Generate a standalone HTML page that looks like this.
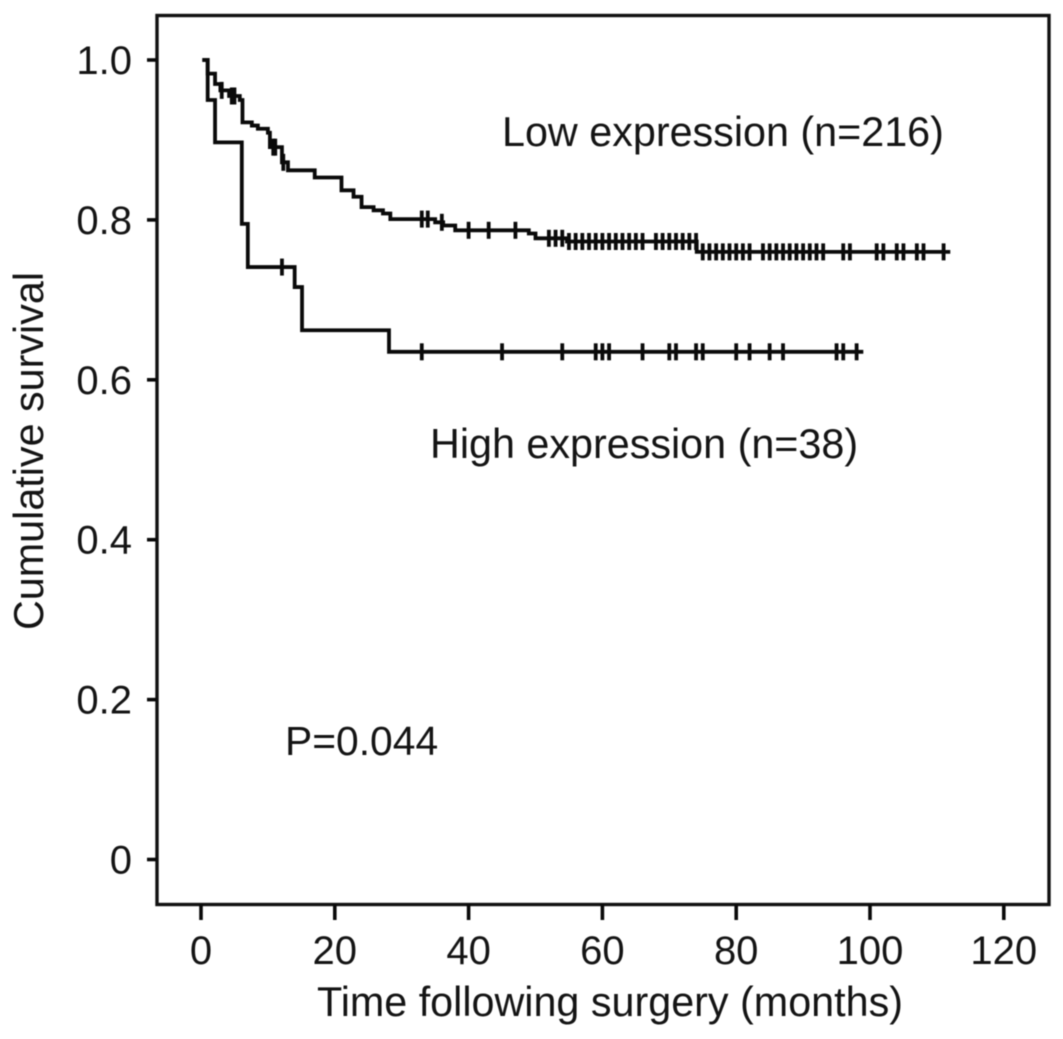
<!DOCTYPE html>
<html>
<head>
<meta charset="utf-8">
<style>
html,body{margin:0;padding:0;background:#fff;width:1063px;height:1039px;overflow:hidden}
svg{display:block;filter:blur(0.6px)}
text{font-family:"Liberation Sans",Arial,sans-serif;font-size:40px;fill:#141414}
.big{font-size:41.3px}
</style>
</head>
<body>
<svg id="chart" width="1063" height="1039" viewBox="0 0 1063 1039" xmlns="http://www.w3.org/2000/svg">
<rect x="157" y="15.5" width="892" height="889" fill="none" stroke="#111" stroke-width="3.4"/>
<text class="big" transform="translate(43,451) rotate(-90)" text-anchor="middle">Cumulative survival</text>
<text class="big" x="610" y="1016" text-anchor="middle">Time following surgery (months)</text>
<text class="big" x="502" y="146">Low expression (n=216)</text>
<text class="big" x="430" y="458">High expression (n=38)</text>
<text x="285" y="755" style="font-size:40.8px">P=0.044</text>
</svg>
<script>
const xTicks = [0, 20, 40, 60, 80, 100, 120];
const yTicks = [0, 0.2, 0.4, 0.6, 0.8, 1.0];
const yTickLabels = ["0", "0.2", "0.4", "0.6", "0.8", "1.0"];

const lowStepTimes = [0.2, 1.0, 2.1, 2.9, 4.2, 5.8, 6.2, 7.6, 8.5, 10.0, 10.3, 12.1, 13.0, 17.0, 21.0, 22.8, 24.0, 25.8, 27.2, 28.3, 35.0, 36.2, 38.0, 49.0, 50.0, 54.7, 74.1];
const lowStepSurvival = [1.0, 0.983, 0.970, 0.962, 0.955, 0.950, 0.922, 0.918, 0.914, 0.909, 0.891, 0.872, 0.862, 0.853, 0.837, 0.829, 0.816, 0.812, 0.808, 0.801, 0.797, 0.793, 0.787, 0.783, 0.777, 0.773, 0.760];
const lowEndTime = 112;
const lowCensorTimes = [3.1, 4.6, 5.0, 10.8, 11.1, 12.3, 33, 33.9, 36, 40, 43, 47, 52, 53, 54, 55, 56, 57, 58, 59, 60, 61, 62, 63, 64, 65, 66, 68, 69, 70, 71, 72, 73, 74, 75, 76, 77, 78, 79, 80, 81, 82, 84, 85, 86, 87, 88, 89, 90, 91, 92, 93, 96, 97, 101, 102, 104, 105, 107, 108, 111];

const highStepTimes = [0.2, 1.0, 2.1, 6.1, 7.0, 14.0, 15.1, 28.1];
const highStepSurvival = [1.0, 0.950, 0.897, 0.795, 0.741, 0.716, 0.662, 0.635];
const highEndTime = 99;
const highCensorTimes = [12.1, 33, 45, 54, 59, 60, 61, 66, 70, 71, 74, 75, 80, 82, 85, 87, 95, 96, 98];

const NS = "http://www.w3.org/2000/svg";
const svg = document.getElementById("chart");
const xScale = function (t) { return 201 + t * 6.69; };
const yScale = function (s) { return 859.5 - s * 799.5; };

function drawLine(x1, y1, x2, y2, width) {
  const l = document.createElementNS(NS, "line");
  l.setAttribute("x1", x1);
  l.setAttribute("y1", y1);
  l.setAttribute("x2", x2);
  l.setAttribute("y2", y2);
  l.setAttribute("stroke", "#0a0a0a");
  l.setAttribute("stroke-width", width);
  svg.appendChild(l);
  return l;
}

function survivalAt(times, vals, t) {
  let s = vals[0];
  for (let i = 0; i < times.length; i++) {
    if (times[i] <= t) s = vals[i];
  }
  return s;
}

function drawSeries(times, vals, endTime, censors, name) {
  let d = "M" + xScale(times[0]) + " " + yScale(vals[0]);
  for (let i = 1; i < times.length; i++) {
    d += "H" + xScale(times[i]) + "V" + yScale(vals[i]);
  }
  d += "H" + xScale(endTime);
  const p = document.createElementNS(NS, "path");
  p.setAttribute("d", d);
  p.setAttribute("fill", "none");
  p.setAttribute("stroke", "#0a0a0a");
  p.setAttribute("stroke-width", "3.8");
  
  
  svg.appendChild(p);
  censors.forEach(function (t) {
    const y = yScale(survivalAt(times, vals, t));
    const c = drawLine(xScale(t), y - 8.5, xScale(t), y + 8.5, 3.8);
    
    
  });
}

xTicks.forEach(function (t) {
  const x = xScale(t);
  const tick = drawLine(x, 904, x, 920, 3.6);
  
  
  const label = document.createElementNS(NS, "text");
  label.setAttribute("x", x);
  label.setAttribute("y", 964);
  label.setAttribute("text-anchor", "middle");
  
  
  label.textContent = String(t);
  svg.appendChild(label);
});

yTicks.forEach(function (s, i) {
  const y = yScale(s);
  const tick = drawLine(147, y, 157, y, 3.6);
  
  
  const label = document.createElementNS(NS, "text");
  label.setAttribute("x", 132);
  label.setAttribute("y", y + 14);
  label.setAttribute("text-anchor", "end");
  
  
  label.textContent = yTickLabels[i];
  svg.appendChild(label);
});

drawSeries(highStepTimes, highStepSurvival, highEndTime, highCensorTimes, "high-expression");
drawSeries(lowStepTimes, lowStepSurvival, lowEndTime, lowCensorTimes, "low-expression");
</script>
</body>
</html>
